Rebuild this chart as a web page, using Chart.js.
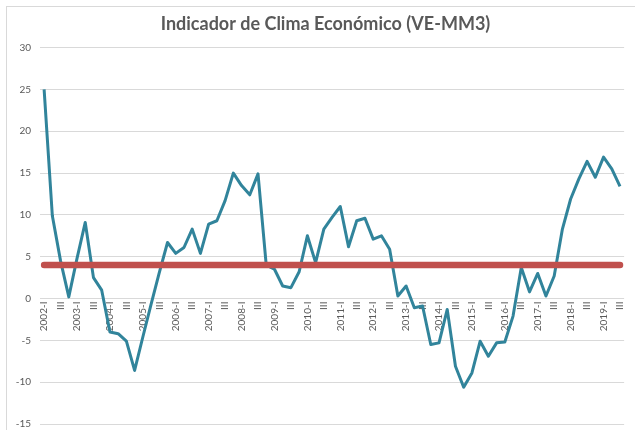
<!DOCTYPE html>
<html>
<head>
<meta charset="utf-8">
<script src="https://cdn.jsdelivr.net/npm/chart.js@4"></script>
<style>
body{margin:0;background:#fff;overflow:hidden}
#frame{position:absolute;left:6px;top:6px;width:640px;height:440px;border:1px solid #d9d9d9}
/* un poco mas alto que la ventana: el eje x flotante reserva espacio abajo */
#wrap{position:absolute;left:0;top:0;width:635px;height:439px}
</style>
</head>
<body>
<div id="frame"></div>
<div id="wrap"><canvas id="chartClimaHTML"></canvas></div>
<script>
const years=["2002","2003","2004","2005","2006","2007","2008","2009","2010","2011","2012","2013","2014","2015","2016","2017","2018","2019"]
const quarters=["I","II","III","IV"]
const lastQuarter=3   // serie termina en 2019-III
const climaValues=[
25.0,9.9,4.5,0.2,
4.8,9.1,2.5,1.0,
-4.0,-4.2,-5.1,-8.6,
-4.6,-0.7,3.1,6.7,
5.4,6.1,8.3,5.4,
8.9,9.3,11.7,15.0,
13.5,12.4,14.9,4.0,
3.5,1.5,1.3,3.2,
7.5,4.3,8.3,9.7,
11.0,6.2,9.3,9.6,
7.1,7.5,5.9,0.3,
1.5,-1.1,-0.9,-5.5,
-5.3,-1.3,-8.1,-10.6,
-8.9,-5.1,-6.9,-5.3,
-5.2,-2.1,3.7,0.8,
3.0,0.3,2.7,8.3,
11.9,14.3,16.4,14.5,
16.9,15.5,13.4]
const referenceLevel=4
const yTicks={min:-15,max:30,step:5}

// etiquetas "2002-I","II","III","IV","2003-I",...
let labels=[]
years.forEach((y,i)=>{
  quarters.forEach((q,j)=>{
    if(i===years.length-1&&j>=lastQuarter)return
    labels.push(j===0?y+"-"+q:q)
  })
})
// linea de referencia: solo primer y ultimo punto, el resto se une con spanGaps
const referenceLine=labels.map((l,i)=>(i===0||i===labels.length-1)?referenceLevel:null)

const grey="#595959"

let chartClima=new Chart(
  document.getElementById('chartClimaHTML'),
  {
    type:'line',
    data:{
      labels:labels,
      datasets:[
        {
          label:'Referencia',
          data:referenceLine,
          spanGaps:true,
          borderColor:'#C0504D',
          borderWidth:6.5,
          borderCapStyle:'round',
          pointRadius:0,
          order:0
        },
        {
          label:'VE-MM3',
          data:climaValues,
          borderColor:'#31849B',
          borderWidth:3,
          borderJoinStyle:'round',
          pointRadius:0,
          tension:0,
          order:1
        }
      ]
    },
    options:{
      responsive:true,
      maintainAspectRatio:false,
      animation:false,
      layout:{padding:{left:16,right:0,top:0,bottom:0}},
      plugins:{
        title:{display:true,text:"Indicador de Clima Económico (VE-MM3)",color:grey,
          font:{family:"Lato",size:18,weight:'bold'},padding:{top:13,bottom:13}},
        legend:{display:false},
        tooltip:{enabled:false}
      },
      scales:{
        x:{
          position:{y:0},
          offset:true,
          grid:{display:false,drawTicks:false},
          border:{display:false},
          ticks:{
            autoSkip:false,maxRotation:90,minRotation:90,padding:3,
            color:grey,font:{family:"Lato",size:10},
            callback:function(v,i){return i%2===0?this.getLabelForValue(v):''}
          }
        },
        y:{
          min:yTicks.min,max:yTicks.max,
          grid:{color:'#D9D9D9',drawTicks:false},
          border:{display:false},
          ticks:{stepSize:yTicks.step,padding:9,color:grey,font:{family:"Lato",size:10}},
          afterFit:(s)=>{s.width=24}
        }
      }
    }
  }
)
</script>
</body>
</html>
